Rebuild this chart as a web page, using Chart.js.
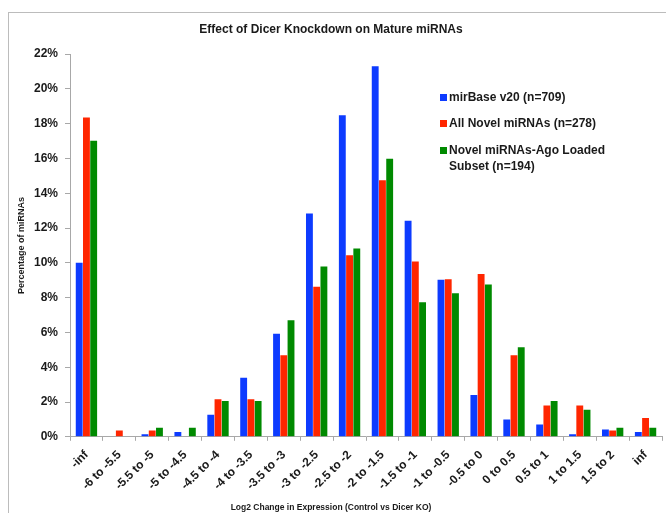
<!DOCTYPE html>
<html>
<head>
<meta charset="utf-8">
<title>Effect of Dicer Knockdown on Mature miRNAs</title>
<script src="https://cdn.jsdelivr.net/npm/chart.js@4/dist/chart.umd.min.js"></script>
<style>
    html, body {
        margin: 0;
        padding: 0;
        background: #ffffff;
        overflow: hidden;
    }

    #frame {
        position: absolute;
        left: 8px;
        top: 12px;
        width: 720px;
        height: 600px;
        border: 1px solid #bcbcbc;
    }

    #wrap {
        position: absolute;
        left: 0;
        top: 0;
        width: 666px;
        height: 513px;
    }
</style>
</head>
<body>
<div id="frame"></div>
<div id="wrap">
    <canvas id="dicerChart" width="666" height="513"></canvas>
</div>

<script>
"use strict";

/* =========================================================
   DATA
========================================================= */

const categories = [
    "-inf", "-6 to -5.5", "-5.5 to -5", "-5 to -4.5", "-4.5 to -4",
    "-4 to -3.5", "-3.5 to -3", "-3 to -2.5", "-2.5 to -2", "-2 to -1.5",
    "-1.5 to -1", "-1 to -0.5", "-0.5 to 0", "0 to 0.5", "0.5 to 1",
    "1 to 1.5", "1.5 to 2", "inf"
];

const mirBase = [
    10.01, 0, 0.14, 0.28, 1.27, 3.39, 5.92, 12.84, 18.48,
    21.30, 12.41, 9.03, 2.40, 0.99, 0.71, 0.14, 0.42, 0.28
];

const allNovel = [
    18.35, 0.36, 0.36, 0, 2.16, 2.16, 4.68, 8.63, 10.43,
    14.75, 10.07, 9.05, 9.35, 4.68, 1.80, 1.80, 0.36, 1.08
];

const agoLoaded = [
    17.01, 0, 0.52, 0.52, 2.06, 2.06, 6.70, 9.79, 10.82,
    15.98, 7.73, 8.25, 8.76, 5.15, 2.06, 1.55, 0.52, 0.52
];

const seriesNames = [
    ["mirBase v20 (n=709)"],
    ["All Novel miRNAs (n=278)"],
    ["Novel miRNAs-Ago Loaded", "Subset (n=194)"]
];

const seriesColors = ["#0d3bff", "#ff2600", "#008a00"];

const yTicks = [0, 2, 4, 6, 8, 10, 12, 14, 16, 18, 20, 22];


/* =========================================================
   INSIDE LEGEND
========================================================= */

const insideLegend = {

    id: "insideLegend",

    afterDraw(chart) {

        const ctx = chart.ctx;
        const rowTops = [98, 124, 151];
        const lineGap = 16;

        ctx.save();
        ctx.font = "bold 12px Arial, 'Liberation Sans', sans-serif";
        ctx.textBaseline = "middle";
        ctx.textAlign = "left";

        chart.data.datasets.forEach((ds, i) => {
            const y = rowTops[i];
            ctx.fillStyle = ds.backgroundColor;
            ctx.fillRect(440, y - 4, 7, 7);
            ctx.fillStyle = "#1a1a1a";
            ds.legendLines.forEach((line, j) => {
                ctx.fillText(line, 449, y + j * lineGap);
            });
        });

        ctx.restore();
    }
};


/* =========================================================
   CHART
========================================================= */

function createDicerChart() {

    const canvas = document.getElementById("dicerChart");
    if (!canvas) return;

    const axisGrey = "#a8a8a8";
    const fontFamily = "Arial, 'Liberation Sans', sans-serif";
    const series = [mirBase, allNovel, agoLoaded];

    new Chart(canvas, {
        type: "bar",
        data: {
            labels: categories,
            datasets: series.map((values, i) => ({
                label: seriesNames[i].join(" "),
                legendLines: seriesNames[i],
                data: values,
                backgroundColor: seriesColors[i],
                borderWidth: 0,
                categoryPercentage: 0.66,
                barPercentage: 0.95
            }))
        },
        options: {
            responsive: false,
            animation: false,
            layout: {
                padding: { left: 0, right: 4, top: 0, bottom: 0 }
            },
            scales: {
                x: {
                    grid: {
                        display: true,
                        drawOnChartArea: false,
                        color: axisGrey,
                        tickLength: 4
                    },
                    border: { color: axisGrey },
                    ticks: {
                        color: "#1a1a1a",
                        minRotation: 45,
                        maxRotation: 45,
                        padding: 7,
                        autoSkip: false,
                        font: { family: fontFamily, size: 12, weight: "bold" }
                    },
                    afterFit(scale) {
                        scale.height = 66;
                    }
                },
                y: {
                    min: 0,
                    max: 22,
                    afterBuildTicks(scale) {
                        scale.ticks = yTicks.map(v => ({ value: v }));
                    },
                    grid: {
                        display: true,
                        drawOnChartArea: false,
                        color: axisGrey,
                        tickLength: 5
                    },
                    border: { color: axisGrey },
                    ticks: {
                        color: "#1a1a1a",
                        padding: 7,
                        callback: v => v + "%",
                        font: { family: fontFamily, size: 12, weight: "bold" }
                    },
                    title: {
                        display: true,
                        text: "Percentage of miRNAs",
                        color: "#1a1a1a",
                        padding: { top: 16, bottom: 0 },
                        font: { family: fontFamily, size: 9, weight: "bold" }
                    },
                    afterFit(scale) {
                        scale.width = 70;
                    }
                }
            },
            plugins: {
                legend: { display: false },
                tooltip: { enabled: false },
                title: {
                    display: true,
                    text: "Effect of Dicer Knockdown on Mature miRNAs",
                    color: "#1a1a1a",
                    padding: { top: 22, bottom: 17.6 },
                    font: { family: fontFamily, size: 12, weight: "bold" }
                },
                subtitle: {
                    display: true,
                    position: "bottom",
                    text: "Log2 Change in Expression (Control vs Dicer KO)",
                    color: "#1a1a1a",
                    padding: { top: 0, bottom: 0 },
                    font: { family: fontFamily, size: 8.5, weight: "bold" }
                }
            }
        },
        plugins: [insideLegend]
    });
}

document.addEventListener("DOMContentLoaded", () => {
    createDicerChart();
});
</script>
</body>
</html>
